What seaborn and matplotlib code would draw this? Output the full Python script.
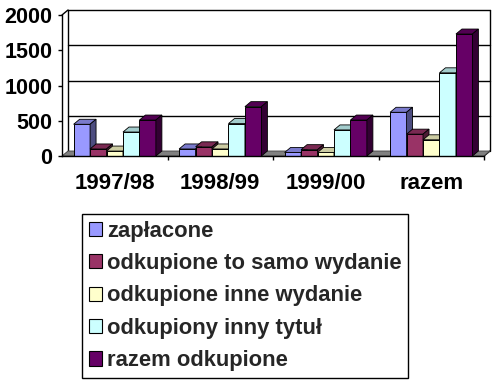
import matplotlib
matplotlib.use('Agg')
import matplotlib.pyplot as plt
import seaborn as sns
import pandas as pd
import numpy as np
from matplotlib.patches import Polygon, Rectangle
import matplotlib.colors as mcolors

categories = ['1997/98', '1998/99', '1999/00', 'razem']
series = ['zapłacone', 'odkupione to samo wydanie', 'odkupione inne wydanie',
          'odkupiony inny tytuł', 'razem odkupione']
zaplacone = [450, 100, 50, 620]
to_samo = [100, 130, 90, 310]
inne_wydanie = [70, 100, 50, 230]
inny_tytul = [340, 460, 370, 1180]
razem_odkupione = [510, 700, 510, 1730]
colors = ['#9999FF', '#993366', '#FFFFCC', '#CCFFFF', '#660066']
yticks = [0, 500, 1000, 1500, 2000]

sns.set_theme(style='white')
plt.rcParams['font.family'] = ['Liberation Sans', 'DejaVu Sans']
plt.rcParams['font.weight'] = 'bold'

df = pd.DataFrame({'kategoria': categories,
                   series[0]: zaplacone, series[1]: to_samo, series[2]: inne_wydanie,
                   series[3]: inny_tytul, series[4]: razem_odkupione})
long = df.melt(id_vars='kategoria', var_name='seria', value_name='wartosc')

W, H = 498, 385
fig = plt.figure(figsize=(W / 100, H / 100), dpi=100)
fig.patch.set_facecolor('white')
ax = fig.add_axes([62 / W, 1 - 156 / H, (484 - 62) / W, (156 - 15) / H])
ax.set_facecolor('none')

sns.barplot(data=long, x='kategoria', y='wartosc', hue='seria', hue_order=series,
            order=categories, palette=colors, width=0.78, edgecolor='black',
            linewidth=0.7, saturation=1, ax=ax, legend=False)

ax.set_xlim(-0.5, 3.5)
ax.set_ylim(0, 2000)
ax.set_xlabel('')
ax.set_ylabel('')

# 3D depth in data units (derived from pixel offsets)
dpx, dpy = 6, 5
dx = dpx / (ax.bbox.width / 4.0)
dy = dpy / (ax.bbox.height / 2000.0)

# back wall gridlines and edges
x0, x1 = -0.5, 3.5
for v in yticks[1:]:
    ax.plot([x0 + dx, x1 + dx], [v + dy, v + dy], color='black', lw=1, zorder=0.5, clip_on=False)
ax.plot([x0 + dx, x0 + dx], [dy, 2000 + dy], color='black', lw=1, zorder=0.5, clip_on=False)
ax.plot([x1 + dx, x1 + dx], [dy, 2000 + dy], color='black', lw=1, zorder=0.5, clip_on=False)
ax.plot([x0, x0 + dx], [2000, 2000 + dy], color='black', lw=1, zorder=0.5, clip_on=False)
ax.plot([x1, x1 + dx], [0, dy], color='black', lw=1, zorder=0.5, clip_on=False)
# floor
ax.add_patch(Polygon([(x0, 0), (x1, 0), (x1 + dx, dy), (x0 + dx, dy)], closed=True,
                     facecolor='#808080', edgecolor='#404040', lw=0.6, zorder=0.8, clip_on=False))

# 3D faces for bars
bars = [p for p in ax.patches if isinstance(p, Rectangle) and p.get_width() > 0 and p.get_height() > 0]
bars.sort(key=lambda p: p.get_x())
for i, p in enumerate(bars):
    z = 2 + i * 0.01
    p.set_zorder(z)
    bx, bw, bh = p.get_x(), p.get_width(), p.get_height()
    fc = np.array(mcolors.to_rgb(p.get_facecolor()))
    top = Polygon([(bx, bh), (bx + bw, bh), (bx + bw + dx, bh + dy), (bx + dx, bh + dy)],
                  closed=True, facecolor=fc * 0.8, edgecolor='black', lw=0.6, zorder=z, clip_on=False)
    side = Polygon([(bx + bw, 0), (bx + bw + dx, dy), (bx + bw + dx, bh + dy), (bx + bw, bh)],
                   closed=True, facecolor=fc * 0.5, edgecolor='black', lw=0.6, zorder=z, clip_on=False)
    ax.add_patch(top)
    ax.add_patch(side)

for s in ['top', 'right']:
    ax.spines[s].set_visible(False)
for s in ['left', 'bottom']:
    ax.spines[s].set_color('black')
    ax.spines[s].set_linewidth(1)
    ax.spines[s].set_zorder(5)

ax.set_yticks(yticks)
ax.set_yticklabels([str(v) for v in yticks])
ax.set_xticks(range(len(categories)))
ax.set_xticklabels(categories)
ax.set_xticks([0.5, 1.5, 2.5, 3.5], minor=True)
ax.tick_params(axis='y', which='major', left=True, length=3, width=1, color='black',
               direction='out', pad=4, labelsize=15.5, labelcolor='black')
ax.tick_params(axis='x', which='major', bottom=True, length=0, pad=12, labelsize=16, labelcolor='black')
ax.tick_params(axis='x', which='minor', bottom=True, length=3, width=1, color='black', direction='out')
for lab in ax.get_xticklabels() + ax.get_yticklabels():
    lab.set_fontweight('bold')

handles = [Rectangle((0, 0), 1, 1, facecolor=c, edgecolor='black', lw=0.8) for c in colors]
leg = fig.legend(handles, series, loc='upper left', bbox_to_anchor=(82 / W, 1 - 214 / H),
                 frameon=True, fancybox=False, edgecolor='black', framealpha=1,
                 prop={'weight': 'bold', 'size': 15.8}, handlelength=0.62, handleheight=0.62,
                 handletextpad=0.22, labelspacing=0.52, borderpad=0.3, borderaxespad=0)
leg.get_frame().set_linewidth(1)

fig.savefig('out.png', dpi=100, facecolor='white')
